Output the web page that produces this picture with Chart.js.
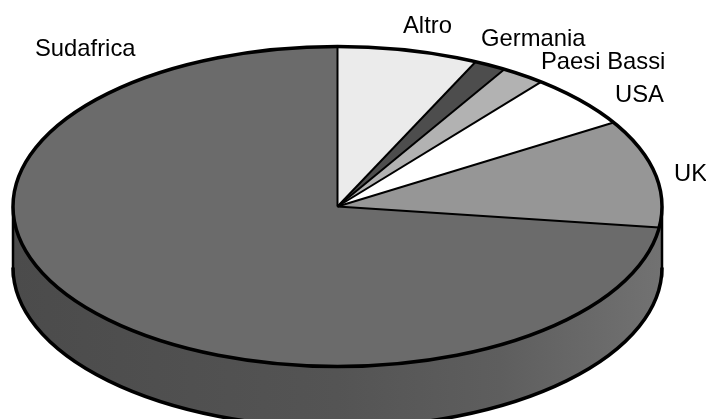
<!DOCTYPE html>
<html>
<head>
<meta charset="utf-8">
<title>Torta</title>
<style>
  html, body { margin: 0; padding: 0; background: #fff; overflow: hidden; }
  canvas { display: block; }
</style>
<script src="https://cdn.jsdelivr.net/npm/chart.js@4/dist/chart.umd.js"></script>
</head>
<body>
<canvas id="pieChart" width="706" height="419"></canvas>
<script>
const categories = ['Altro', 'Germania', 'Paesi Bassi', 'USA', 'UK', 'Sudafrica'];
const shares = [7, 1.6, 2.2, 5.4, 10.9, 72.9];
const sliceColors = ['#ebebeb', '#4d4d4d', '#b2b2b2', '#ffffff', '#969696', '#6b6b6b'];

const RADIUS_X = 324.5;
const RADIUS_Y = 160;
const DEPTH = 61;
const WALL_EDGE = 71;

// flattens the pie into an ellipse and adds the side wall under it
const tiltPlugin = {
  id: 'tilt',
  beforeDatasetsDraw(chart) {
    const ctx = chart.ctx;
    const arc = chart.getDatasetMeta(0).data[0];
    const cx = arc.x, cy = arc.y;

    const wall = ctx.createLinearGradient(cx - RADIUS_X, 0, cx + RADIUS_X, 0);
    wall.addColorStop(0, '#4b4b4b');
    wall.addColorStop(0.5, '#545454');
    wall.addColorStop(0.75, '#5e5e5e');
    wall.addColorStop(1, '#727272');

    ctx.save();
    ctx.beginPath();
    ctx.moveTo(cx - RADIUS_X, cy);
    ctx.lineTo(cx - RADIUS_X, cy + DEPTH);
    ctx.ellipse(cx, cy + DEPTH, RADIUS_X, RADIUS_Y, 0, Math.PI, 0, true);
    ctx.lineTo(cx + RADIUS_X, cy);
    ctx.closePath();
    ctx.fillStyle = wall;
    ctx.fill();

    ctx.strokeStyle = '#000';
    ctx.lineWidth = 3.5;
    ctx.beginPath();
    ctx.ellipse(cx, cy + DEPTH, RADIUS_X, RADIUS_Y, 0, Math.PI, 0, true);
    ctx.stroke();

    ctx.lineWidth = 2.5;
    ctx.beginPath();
    ctx.moveTo(cx - RADIUS_X, cy);
    ctx.lineTo(cx - RADIUS_X, cy + WALL_EDGE);
    ctx.moveTo(cx + RADIUS_X, cy);
    ctx.lineTo(cx + RADIUS_X, cy + WALL_EDGE);
    ctx.stroke();
    ctx.restore();

    ctx.save();
    ctx.translate(cx, cy);
    ctx.scale(1, RADIUS_Y / RADIUS_X);
    ctx.translate(-cx, -cy);
  },
  afterDatasetsDraw(chart) {
    const ctx = chart.ctx;
    ctx.restore();

    // outlines go on after the transform is gone so the line width stays even
    const arcs = chart.getDatasetMeta(0).data;
    const cx = arcs[0].x, cy = arcs[0].y;
    const squash = RADIUS_Y / RADIUS_X;

    ctx.save();
    ctx.strokeStyle = '#000';
    ctx.lineWidth = 2;
    ctx.lineCap = 'butt';
    arcs.forEach(function(arc) {
      ctx.beginPath();
      ctx.moveTo(cx, cy);
      ctx.lineTo(cx + Math.cos(arc.startAngle) * RADIUS_X, cy + Math.sin(arc.startAngle) * RADIUS_X * squash);
      ctx.stroke();
    });
    ctx.lineWidth = 3.5;
    ctx.beginPath();
    ctx.ellipse(cx, cy, RADIUS_X, RADIUS_Y, 0, 0, Math.PI * 2);
    ctx.stroke();
    ctx.restore();
  }
};

// category names sit by hand around the rim, as in a pasted office chart
const labelPlugin = {
  id: 'rimLabels',
  afterDraw(chart) {
    const spots = [[403, 33], [481, 46], [541, 69], [615, 102], [674, 181], [35, 56]];
    const ctx = chart.ctx;
    ctx.save();
    ctx.fillStyle = '#000';
    ctx.font = '23.8px "Liberation Sans", Arial, sans-serif';
    ctx.textAlign = 'left';
    ctx.textBaseline = 'alphabetic';
    categories.forEach(function(name, i) {
      ctx.fillText(name, spots[i][0], spots[i][1]);
    });
    ctx.restore();
  }
};

new Chart(document.getElementById('pieChart'), {
  type: 'pie',
  data: {
    labels: categories,
    datasets: [{
      data: shares,
      backgroundColor: sliceColors,
      borderWidth: 0,
      radius: RADIUS_X,
      clip: false
    }]
  },
  options: {
    responsive: false,
    animation: false,
    layout: { padding: { right: 31, bottom: 6 } },
    plugins: {
      legend: { display: false },
      tooltip: { enabled: false }
    }
  },
  plugins: [tiltPlugin, labelPlugin]
});
</script>
</body>
</html>
